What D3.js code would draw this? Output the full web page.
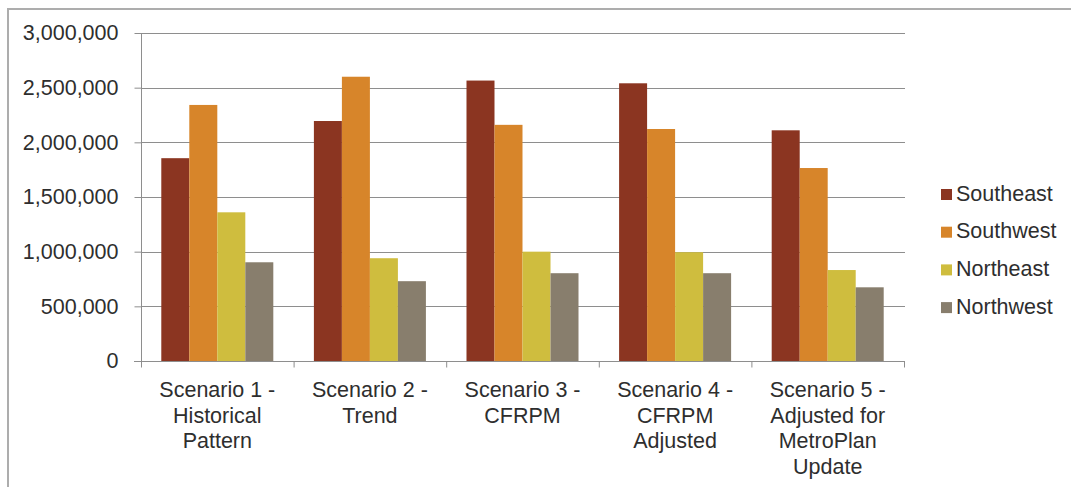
<!DOCTYPE html>
<html>
<head>
<meta charset="utf-8">
<script src="https://cdn.jsdelivr.net/npm/d3@7"></script>
<style>
  html, body { margin: 0; padding: 0; background: #fff; }
  svg { display: block; font-family: "Liberation Sans", Arial, sans-serif; }
</style>
</head>
<body>
<svg id="chart" width="1071" height="487"></svg>
<script>
// Scenario labels (line breaks marked with "\n")
const categories = [
  "Scenario 1 -\nHistorical\nPattern",
  "Scenario 2 -\nTrend",
  "Scenario 3 -\nCFRPM",
  "Scenario 4 -\nCFRPM\nAdjusted",
  "Scenario 5 -\nAdjusted for\nMetroPlan\nUpdate"
];
const seriesNames = ["Southeast", "Southwest", "Northeast", "Northwest"];
const southeast = [1855000, 2195000, 2565000, 2540000, 2110000];
const southwest = [2342000, 2600000, 2160000, 2122000, 1765000];
const northeast = [1360000, 940000, 1000000, 995000, 832000];
const northwest = [903000, 730000, 803000, 803000, 674000];
const seriesColors = ["#8b3521", "#d7852a", "#cfbd3e", "#887e6d"];
const yTicks = [0, 500000, 1000000, 1500000, 2000000, 2500000, 3000000];

const seriesValues = [southeast, southwest, northeast, northwest];

const svg = d3.select("#chart");
const W = 1071, H = 487;
const plot = { left: 141, right: 904, top: 33, bottom: 361 };
const textColor = "#2e2e2e";
const fontSize = 21.5;

// chart frame
svg.append("rect")
  .attr("x", 8).attr("y", 9)
  .attr("width", W + 20).attr("height", H + 20)
  .attr("fill", "#fff")
  .attr("stroke", "#adadad").attr("stroke-width", 2);

const x0 = d3.scaleBand()
  .domain(d3.range(categories.length))
  .range([plot.left, plot.right])
  .paddingInner(0.266).paddingOuter(0.133);

const x1 = d3.scaleBand()
  .domain(d3.range(seriesNames.length))
  .range([0, x0.bandwidth()]);

const y = d3.scaleLinear().domain([0, 3000000]).range([plot.bottom, plot.top]);

// gridlines
svg.append("g").selectAll("line")
  .data(yTicks.filter(d => d > 0))
  .join("line")
  .attr("x1", plot.left).attr("x2", plot.right + 1)
  .attr("y1", d => Math.round(y(d)) + 0.5).attr("y2", d => Math.round(y(d)) + 0.5)
  .attr("stroke", "#8e8e8e").attr("stroke-width", 1);

// bars
const groups = svg.append("g").selectAll("g")
  .data(categories.map((c, i) => i))
  .join("g")
  .attr("transform", i => `translate(${x0(i)},0)`);

groups.selectAll("rect")
  .data(i => seriesValues.map((vals, s) => ({ s, v: vals[i] })))
  .join("rect")
  .attr("x", d => x1(d.s))
  .attr("width", x1.bandwidth())
  .attr("y", d => y(d.v))
  .attr("height", d => y(0) - y(d.v))
  .attr("fill", d => seriesColors[d.s]);

// y axis
const yAxis = svg.append("g")
  .attr("transform", `translate(${plot.left + 0.5},0)`)
  .call(d3.axisLeft(y).tickValues(yTicks).tickFormat(d3.format(",")).tickSize(7).tickPadding(16));
yAxis.select(".domain").attr("stroke", "#8e8e8e").attr("d", `M0,${plot.top}V${plot.bottom}`);
yAxis.selectAll(".tick line").attr("stroke", "#8e8e8e");
yAxis.selectAll(".tick text")
  .attr("fill", textColor)
  .style("font-size", fontSize + "px")
  .style("font-family", "'Liberation Sans', Arial, sans-serif");

// x axis baseline and boundary ticks
const gap = (x0.step() - x0.bandwidth()) / 2;
const bounds = d3.range(categories.length + 1).map(i =>
  i < categories.length ? x0(i) - gap : x0(i - 1) + x0.bandwidth() + gap);
const xBound = d3.scalePoint().domain(d3.range(bounds.length)).range([bounds[0], bounds[bounds.length - 1]]);
const xAxis = svg.append("g")
  .attr("transform", `translate(0,${Math.round(plot.bottom) + 0.5})`)
  .call(d3.axisBottom(xBound).tickSize(6).tickFormat(""));
xAxis.select(".domain").attr("stroke", "#8e8e8e").attr("d", `M${plot.left - 7},0H${plot.right + 1}`);
xAxis.selectAll(".tick line").attr("stroke", "#8e8e8e");

// category labels
const labels = svg.append("g").selectAll("text")
  .data(categories)
  .join("text")
  .attr("text-anchor", "middle")
  .attr("fill", textColor)
  .style("font-size", fontSize + "px")
  .attr("transform", (d, i) => `translate(${x0(i) + x0.bandwidth() / 2},397)`);
labels.selectAll("tspan")
  .data(d => d.split("\n"))
  .join("tspan")
  .attr("x", 0)
  .attr("y", (d, j) => j * 25.5)
  .text(d => d);

// legend
const legend = svg.append("g").attr("transform", "translate(941,0)");
const rows = legend.selectAll("g")
  .data(seriesNames)
  .join("g")
  .attr("transform", (d, i) => `translate(0,${200.5 + i * 37.7})`);
rows.append("rect")
  .attr("x", 0).attr("y", -11.5)
  .attr("width", 11).attr("height", 11)
  .attr("fill", (d, i) => seriesColors[i]);
rows.append("text")
  .attr("x", 15).attr("y", 0)
  .attr("fill", textColor)
  .style("font-size", fontSize + "px")
  .text(d => d);
</script>
</body>
</html>
